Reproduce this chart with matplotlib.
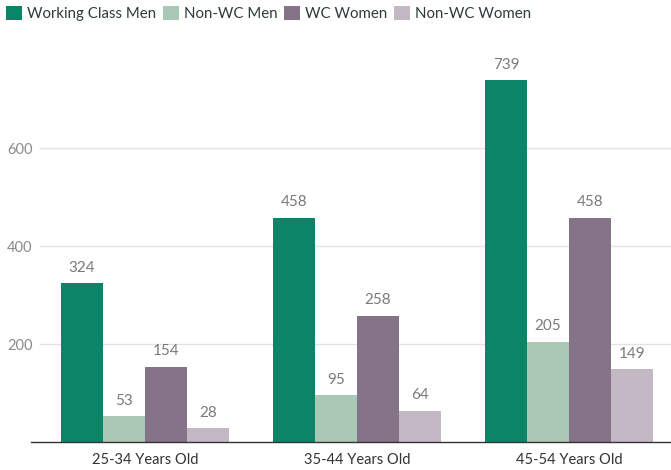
import matplotlib.pyplot as plt
import numpy as np
from matplotlib.patches import Patch

plt.rcParams['font.family'] = ['Lato', 'DejaVu Sans']

grupos = ['25-34 Years Old', '35-44 Years Old', '45-54 Years Old']
series = ['Working Class Men', 'Non-WC Men', 'WC Women', 'Non-WC Women']
wc_homens = [324, 458, 739]
nwc_homens = [53, 95, 205]
wc_mulheres = [154, 258, 458]
nwc_mulheres = [28, 64, 149]
cores = ['#0b8468', '#a9c8b5', '#857387', '#c3b8c3']

valores = [wc_homens, nwc_homens, wc_mulheres, nwc_mulheres]

fig = plt.figure(figsize=(6.71, 4.70), dpi=100)
ax = fig.add_axes([31 / 671, 28 / 470, 640 / 671, 392 / 470])

x = np.arange(len(grupos))
larg = 0.198
for i, (vals, cor) in enumerate(zip(valores, cores)):
    pos = x + (i - 1.5) * larg
    barras = ax.bar(pos, vals, width=larg, color=cor, zorder=2)
    for b, v in zip(barras, vals):
        ax.annotate(str(v), (b.get_x() + b.get_width() / 2, v), xytext=(0, 6),
                    textcoords='offset points', ha='center', va='bottom',
                    fontsize=11, color='#7a7a7a')

ax.set_xlim(-0.538, 2.481)
ax.set_ylim(0, 800)
ax.set_yticks([200, 400, 600])
ax.set_xticks(x)
ax.set_xticklabels(grupos, fontsize=10.5, color='#333333')
ax.tick_params(axis='y', length=0, labelsize=10.5, labelcolor='#8a8a8a', pad=-1)
ax.tick_params(axis='x', length=0, pad=8)
# grade comeca um pouco depois do eixo, como no original
for yv in [200, 400, 600]:
    ax.axhline(yv, xmin=9 / 640, xmax=1, color='#e3e3e3', linewidth=1, zorder=0)
for s in ['top', 'right', 'left']:
    ax.spines[s].set_visible(False)
ax.spines['bottom'].set_color('#333333')
ax.spines['bottom'].set_linewidth(1)

handles = [Patch(facecolor=c, label=s) for s, c in zip(series, cores)]
fig.legend(handles=handles, loc='upper left', bbox_to_anchor=(6 / 671, 1 - 6 / 470), ncol=4,
           frameon=False, fontsize=10.8, handlelength=1.05, handleheight=1.05,
           handletextpad=0.35, columnspacing=0.45, borderpad=0, borderaxespad=0,
           labelcolor='#2f3b3b')

plt.savefig('out.png')
